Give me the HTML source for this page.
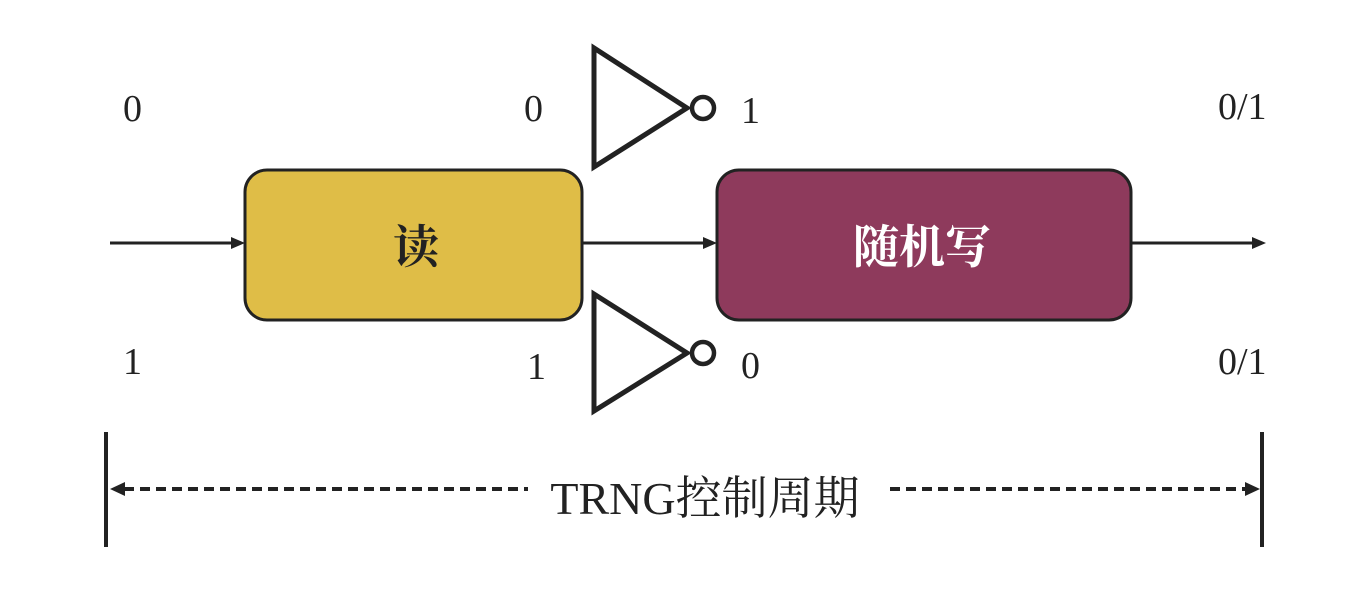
<!DOCTYPE html>
<html><head><meta charset="utf-8"><style>
html,body{margin:0;padding:0;background:#fff;}
svg{display:block}
.n{font-family:"Liberation Serif","Noto Serif CJK SC",serif;font-size:38px;fill:#222}
</style></head><body>
<svg width="1352" height="592" viewBox="0 0 1352 592" xmlns="http://www.w3.org/2000/svg">
<g stroke="#222" stroke-width="3" fill="none">
<polygon points="594,48 594,167 687,108" stroke-width="5" stroke-linejoin="miter"/>
<circle cx="703" cy="108" r="11" stroke-width="4.5" fill="#fff"/>
<polygon points="594,294 594,411 687,353" stroke-width="5"/>
<circle cx="703" cy="353" r="11" stroke-width="4.5" fill="#fff"/>
<line x1="110" y1="243" x2="232" y2="243"/>
<line x1="582" y1="243" x2="704" y2="243"/>
<line x1="1131" y1="243" x2="1252" y2="243"/>
<line x1="106" y1="432" x2="106" y2="547" stroke-width="4"/>
<line x1="1262" y1="432" x2="1262" y2="547" stroke-width="4"/>
<line x1="124" y1="489" x2="528" y2="489" stroke-width="4" stroke-dasharray="10,6"/>
<line x1="890" y1="489" x2="1246" y2="489" stroke-width="4" stroke-dasharray="10,6"/>
</g>
<g fill="#222">
<polygon points="245,243 231,237 231,249"/>
<polygon points="717,243 703,237 703,249"/>
<polygon points="1266,243 1252,237 1252,249"/>
<polygon points="110,489 125,482 125,496"/>
<polygon points="1260,489 1245,482 1245,496"/>
</g>
<rect x="245" y="170" width="337" height="150" rx="22" fill="#dfbd47" stroke="#222" stroke-width="3"/>
<rect x="717" y="170" width="414" height="150" rx="22" fill="#8e3a5c" stroke="#222" stroke-width="3"/>
<text x="416" y="263" text-anchor="middle" font-family="'Noto Serif CJK SC',serif" font-size="46" font-weight="bold" fill="#222">读</text>
<text x="922" y="263" text-anchor="middle" font-family="'Noto Serif CJK SC',serif" font-size="46" font-weight="bold" fill="#fff">随机写</text>
<text class="n" x="123" y="121">0</text>
<text class="n" x="524" y="121">0</text>
<text class="n" x="741" y="123">1</text>
<text class="n" x="1218" y="119">0/1</text>
<text class="n" x="123" y="374">1</text>
<text class="n" x="527" y="379">1</text>
<text class="n" x="741" y="378">0</text>
<text class="n" x="1218" y="374">0/1</text>
<text x="705" y="514" text-anchor="middle" font-family="'Liberation Serif','Noto Serif CJK SC',serif" font-size="46" fill="#222">TRNG控制周期</text>
</svg>
</body></html>
